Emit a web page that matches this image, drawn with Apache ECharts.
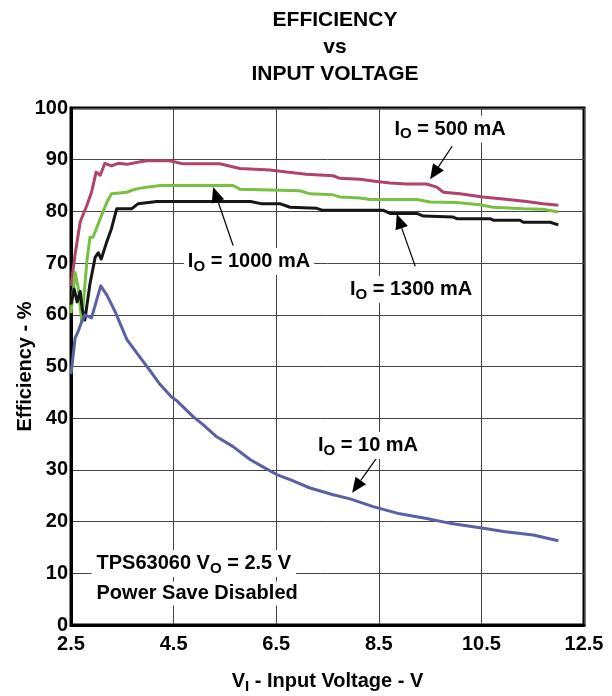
<!DOCTYPE html>
<html>
<head>
<meta charset="utf-8">
<script src="https://cdn.jsdelivr.net/npm/echarts@6/dist/echarts.min.js"></script>
<style>html,body{margin:0;padding:0;background:#fff}#c{width:612px;height:696px}</style>
</head>
<body>
<div id="c"></div>
<script>
// ---- Data ----
const v500 = [2.5,2.58,2.68,2.81,2.9,2.99,3.07,3.16,3.29,3.42,3.59,3.85,3.98,4.43,4.68,5.4,5.79,6.38,6.7,7.09,7.61,7.74,8.13,8.46,8.72,9.04,9.43,9.63,9.76,10.08,10.53,10.92,11.38,11.7,12.0];
const e500 = [65.6,71.7,78.0,81.2,83.7,87.6,87.0,89.3,88.8,89.3,89.1,89.6,89.8,89.8,89.2,89.2,88.3,88.0,87.6,87.2,86.9,86.4,86.2,85.8,85.5,85.3,85.3,84.7,83.7,83.4,82.8,82.4,81.9,81.5,81.2];

const v1000 = [2.5,2.58,2.64,2.71,2.81,2.87,2.93,3.07,3.2,3.29,3.59,3.72,3.85,4.24,5.66,5.79,6.96,7.16,7.61,7.74,8.13,8.33,9.24,9.5,10.02,10.47,10.73,11.32,11.7,12.0];
const e1000 = [60.3,68.2,65.2,58.7,70.4,75.0,75.0,78.6,81.8,83.4,83.7,84.2,84.5,85.0,85.0,84.3,84.0,83.4,83.2,82.8,82.6,82.3,82.3,81.8,81.7,81.3,80.8,80.5,80.4,79.9];

const v1300 = [2.5,2.56,2.62,2.68,2.72,2.77,2.87,2.97,3.03,3.09,3.2,3.29,3.39,3.68,3.81,4.17,6.0,6.2,6.57,6.77,7.29,7.41,8.59,8.72,9.24,9.37,9.95,10.02,10.67,10.73,11.25,11.32,11.84,12.0];
const e1300 = [62.0,65.0,62.5,64.5,61.0,59.0,66.0,71.1,72.0,70.8,74.2,76.7,80.5,80.5,81.5,81.9,81.9,81.5,81.5,80.8,80.6,80.2,80.2,79.6,79.6,79.1,78.9,78.6,78.6,78.3,78.3,77.9,77.9,77.4];

const v10 = [2.5,2.58,2.64,2.71,2.77,2.9,3.08,3.2,3.36,3.59,3.85,4.04,4.23,4.46,4.56,4.88,5.08,5.34,5.66,5.99,6.31,6.51,6.77,7.16,7.61,7.94,8.39,8.91,9.43,9.88,10.54,10.93,11.51,12.0];
const e10 = [48.5,55.5,56.8,58.7,60.0,59.4,65.6,63.8,60.6,55.2,51.7,49.2,46.6,44.1,43.4,40.3,38.7,36.4,34.5,32.0,30.2,29.1,28.1,26.5,25.2,24.4,22.9,21.5,20.6,19.7,18.7,18.1,17.4,16.3];

const xTicks = [2.5, 4.5, 6.5, 8.5, 10.5, 12.5];
const yTicks = [0,10,20,30,40,50,60,70,80,90,100];

// annotation labels (data coordinates)
const annLabels = ['500 mA', '1000 mA', '1300 mA', '10 mA'];
const annTextPos = [[9.89, 95.9], [5.97, 70.3], [9.13, 64.9], [8.29, 34.7]];
const annArrowFrom = [[9.93, 92.6], [5.66, 73.4], [9.21, 69.4], [8.48, 32.6]];
const annArrowTo = [[9.50, 86.2], [5.27, 84.7], [8.85, 79.5], [7.98, 25.6]];
const noteLines = ['TPS63060 V', 'Power Save Disabled'];
const notePos = [[2.9, 11.9], [2.9, 6.1]];

// ---- Chart ----
const FONT = '"Liberation Sans", Arial, sans-serif';
const zip = (a, b) => a.map((v, i) => [v, b[i]]);
const subRich = {
  n: { fontSize: 20, fontWeight: 'bold', fontFamily: FONT, color: '#000' },
  s: { fontSize: 15, fontWeight: 'bold', fontFamily: FONT, color: '#000', padding: [10, 0, 0, 0] }
};

const chart = echarts.init(document.getElementById('c'), null, { renderer: 'canvas' });
const mkSeries = (name, xs, ys, color) => ({
  name, type: 'line', data: zip(xs, ys), showSymbol: false, symbol: 'none',
  lineStyle: { color, width: 3, join: 'round' }, z: 3, animation: false
});

const option = {
  animation: false,
  title: {
    text: 'EFFICIENCY\nvs\nINPUT VOLTAGE', left: 330, top: 2, textAlign: 'center',
    textStyle: { fontSize: 21, fontWeight: 'bold', fontFamily: FONT, color: '#000', lineHeight: 27 }
  },
  grid: { left: 71, right: 28, top: 108, bottom: 71, show: true, borderColor: '#000', borderWidth: 3,
    containLabel: false, outerBoundsMode: 'none' },
  xAxis: {
    type: 'value', min: xTicks[0], max: xTicks[xTicks.length - 1], interval: 2,
    name: '{n|V}{s|I}{n| - Input Voltage - V}', nameLocation: 'middle', nameGap: 44, nameMoveOverlap: false,
    nameTextStyle: { rich: subRich },
    axisLine: { show: true, lineStyle: { color: '#000', width: 3 } },
    axisTick: { show: false },
    axisLabel: { margin: 9, fontSize: 20, fontWeight: 'bold', fontFamily: FONT, color: '#000',
      formatter: v => v.toFixed(1) },
    splitLine: { show: true, lineStyle: { color: '#444', width: 1 } }
  },
  yAxis: {
    type: 'value', min: yTicks[0], max: yTicks[yTicks.length - 1], interval: 10,
    name: 'Efficiency - %', nameLocation: 'middle', nameGap: 36, nameRotate: 90, nameMoveOverlap: false,
    nameTextStyle: { fontSize: 20, fontWeight: 'bold', fontFamily: FONT, color: '#000' },
    axisLine: { show: true, lineStyle: { color: '#000', width: 3 } },
    axisTick: { show: false },
    axisLabel: { margin: 3, fontSize: 20, fontWeight: 'bold', fontFamily: FONT, color: '#000' },
    splitLine: { show: true, lineStyle: { color: '#444', width: 1 } }
  },
  series: [
    mkSeries('IO = 500 mA', v500, e500, '#b0426b'),
    mkSeries('IO = 1000 mA', v1000, e1000, '#78c042'),
    mkSeries('IO = 1300 mA', v1300, e1300, '#161616'),
    mkSeries('IO = 10 mA', v10, e10, '#5b60a3')
  ]
};
chart.setOption(option);

function buildGraphics() {
  const els = [];
  annLabels.forEach((lab, i) => {
    const p = chart.convertToPixel({ gridIndex: 0 }, annTextPos[i]);
    const a = chart.convertToPixel({ gridIndex: 0 }, annArrowFrom[i]);
    const b = chart.convertToPixel({ gridIndex: 0 }, annArrowTo[i]);
    const dx = b[0] - a[0], dy = b[1] - a[1];
    const L = Math.sqrt(dx * dx + dy * dy), ux = dx / L, uy = dy / L;
    const hl = 15, hw = 6.5;
    const bx = b[0] - ux * hl, by = b[1] - uy * hl;
    els.push({ type: 'line', z: 10, shape: { x1: a[0], y1: a[1], x2: bx, y2: by },
      style: { stroke: '#000', lineWidth: 1.2 } });
    els.push({ type: 'polygon', z: 10, shape: { points: [[b[0], b[1]], [bx - uy * hw, by + ux * hw], [bx + uy * hw, by - ux * hw]] },
      style: { fill: '#000' } });
    els.push({ type: 'text', z: 11, x: p[0], y: p[1],
      style: { text: '{n|I}{s|O}{n| = ' + lab + '}', rich: subRich, align: 'center', verticalAlign: 'middle',
        backgroundColor: '#fff', padding: [1, 4, 1, 4] } });
  });
  const n1 = chart.convertToPixel({ gridIndex: 0 }, notePos[0]);
  const n2 = chart.convertToPixel({ gridIndex: 0 }, notePos[1]);
  els.push({ type: 'text', z: 11, x: n1[0], y: n1[1],
    style: { text: '{n|' + noteLines[0] + '}{s|O}{n| = 2.5 V}', rich: subRich, align: 'left', verticalAlign: 'middle',
      backgroundColor: '#fff', padding: [1, 5, 1, 5] } });
  els.push({ type: 'text', z: 11, x: n2[0], y: n2[1],
    style: { text: '{n|' + noteLines[1] + '}', rich: subRich, align: 'left', verticalAlign: 'middle',
      backgroundColor: '#fff', padding: [2, 5, 2, 5] } });
  chart.setOption({ graphic: els });
}
buildGraphics();
</script>
</body>
</html>
